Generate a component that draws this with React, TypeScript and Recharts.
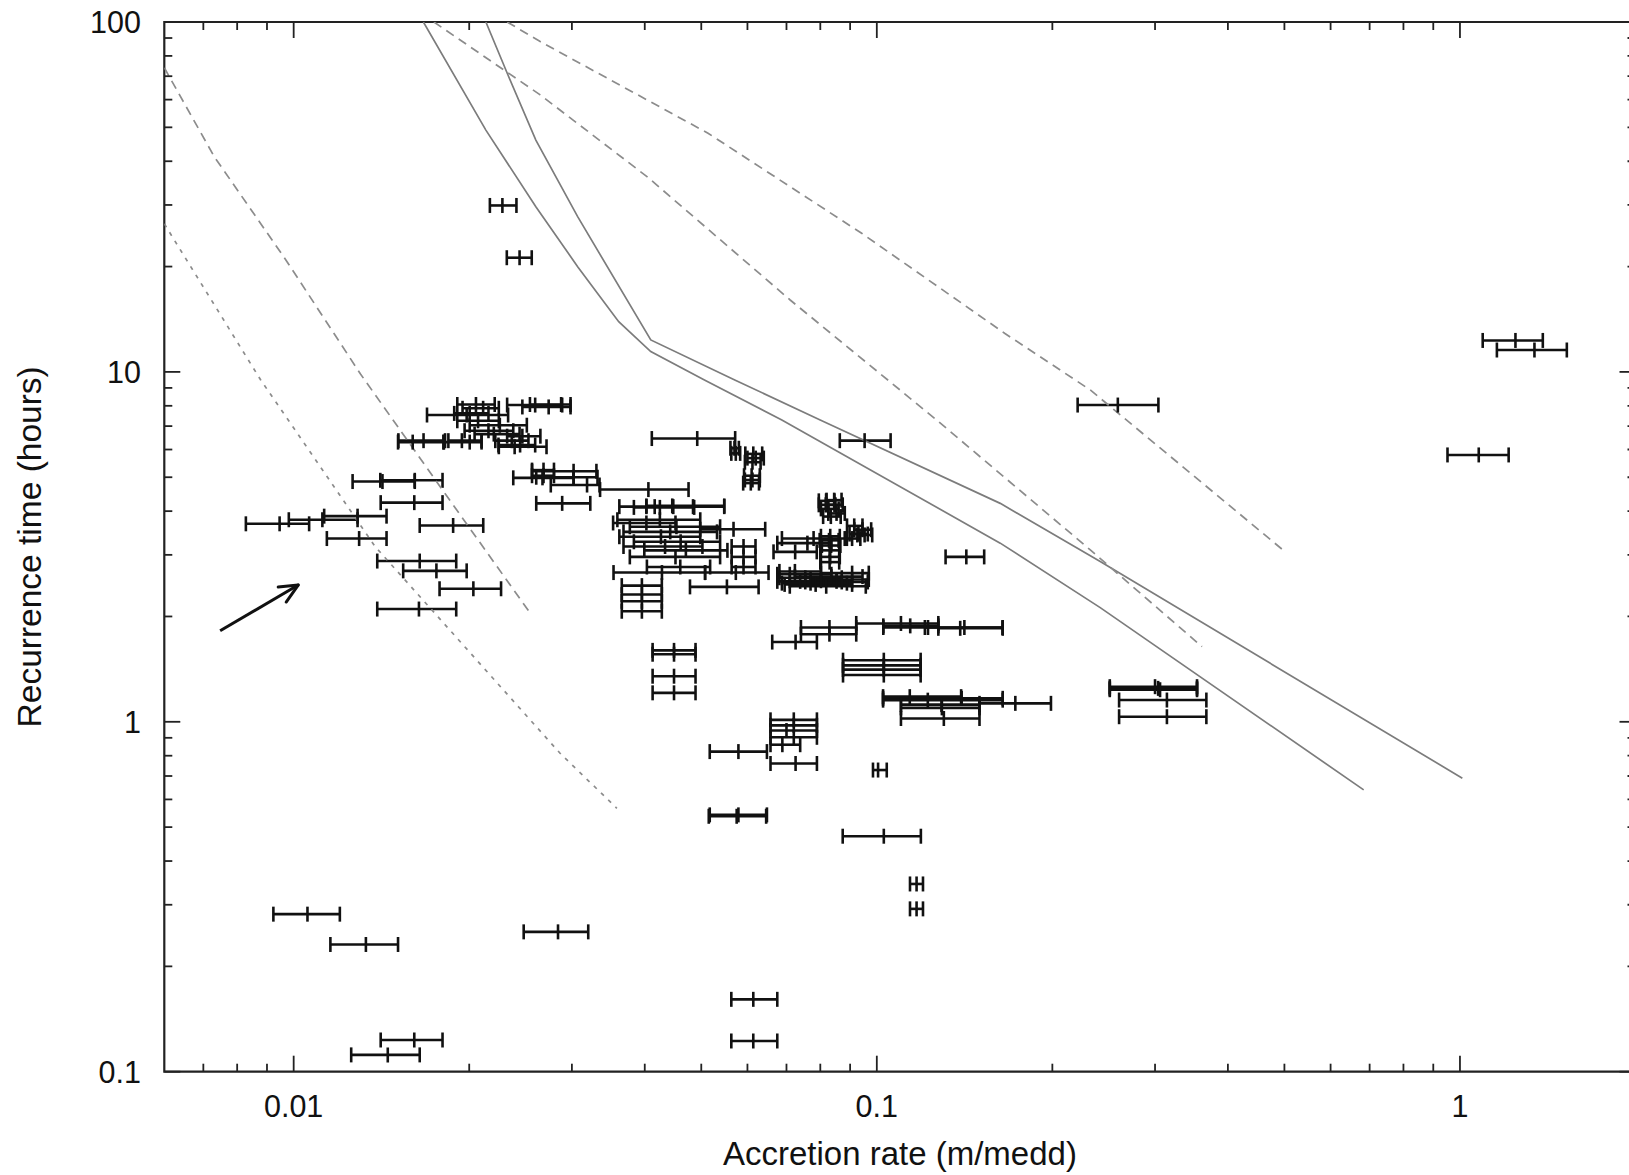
import { ScatterChart, Scatter, XAxis, YAxis, ErrorBar, ReferenceArea } from "recharts";

// [accretion rate, recurrence time, rate low, rate high]
type Bar = [number, number, number, number];

const isolatedBars: Bar[] = [
  [0.0228, 29.9, 0.0217, 0.0241],
  [0.0244, 21.2, 0.0232, 0.0256],
  [1.245, 12.3, 1.094, 1.387],
  [1.342, 11.55, 1.157, 1.525],
  [1.077, 5.79, 0.952, 1.212],
  [0.259, 8.04, 0.221, 0.304],
  [0.0953, 6.36, 0.0864, 0.1056],
  [0.1424, 2.96, 0.1312, 0.1528],
  [0.1005, 0.728, 0.0985, 0.104],
  [0.117, 0.344, 0.114, 0.12],
  [0.117, 0.292, 0.114, 0.12],
  [0.1028, 0.471, 0.0874, 0.119],
  [0.0579, 0.542, 0.0517, 0.0648],
  [0.0575, 0.537, 0.0515, 0.0646],
  [0.0614, 0.161, 0.0563, 0.0675],
  [0.0614, 0.1224, 0.0563, 0.0675],
  [0.0284, 0.251, 0.0248, 0.032],
  [0.01056, 0.282, 0.00923, 0.012],
  [0.0133, 0.231, 0.01156, 0.0151],
  [0.0161, 0.1232, 0.0141, 0.018],
  [0.0145, 0.1117, 0.01255, 0.01645],
];

const leftBars: Bar[] = [
  [0.00946, 3.68, 0.00828, 0.01063],
  [0.0112, 3.78, 0.00981, 0.01287],
  [0.01287, 3.87, 0.01128, 0.01443],
  [0.01295, 3.34, 0.0114, 0.01443],
  [0.0142, 4.86, 0.01262, 0.01613],
  [0.01613, 4.9, 0.01408, 0.018],
  [0.0161, 4.23, 0.0141, 0.018],
  [0.01877, 3.64, 0.01645, 0.02114],
  [0.01645, 2.88, 0.01391, 0.019],
  [0.01757, 2.7, 0.01541, 0.0198],
  [0.02033, 2.4, 0.01779, 0.02268],
  [0.0164, 2.1, 0.01391, 0.019],
];

const upperLeftBars: Bar[] = [
  [0.0167, 6.36, 0.01512, 0.01818],
  [0.016, 6.3, 0.0151, 0.0181],
  [0.01943, 6.36, 0.01842, 0.021],
  [0.02004, 6.3, 0.01806, 0.021],
  [0.02054, 8.07, 0.01908, 0.02212],
  [0.02113, 7.87, 0.01948, 0.02248],
  [0.02004, 7.61, 0.01885, 0.02158],
  [0.02595, 8.04, 0.02323, 0.02887],
  [0.02875, 8.07, 0.02542, 0.02984],
  [0.02737, 7.94, 0.02467, 0.02984],
  [0.0198, 7.53, 0.01693, 0.02332],
  [0.02257, 7.04, 0.02004, 0.02511],
  [0.02158, 6.79, 0.01964, 0.0238],
  [0.02071, 7.25, 0.01908, 0.02248],
  [0.02204, 6.64, 0.02043, 0.0244],
  [0.02366, 6.36, 0.02217, 0.02527],
  [0.02445, 6.18, 0.02245, 0.02595],
  [0.02393, 6.11, 0.02248, 0.02714],
  [0.02467, 6.55, 0.02323, 0.02649],
  [0.02682, 5.24, 0.02563, 0.02795],
  [0.02682, 5.05, 0.02563, 0.02795],
  [0.0302, 5.2, 0.02563, 0.03305],
  [0.02671, 4.98, 0.0238, 0.0302],
  [0.0302, 5.0, 0.02606, 0.03319],
  [0.03185, 4.75, 0.0276, 0.03346],
  [0.04058, 4.61, 0.03353, 0.04755],
  [0.02887, 4.21, 0.02606, 0.03226],
];

const centreBars: Bar[] = [
  [0.04921, 6.45, 0.04113, 0.05716],
  [0.057, 6.05, 0.0561, 0.058],
  [0.0573, 5.85, 0.0563, 0.0583],
  [0.0614, 5.83, 0.0595, 0.0636],
  [0.062, 5.67, 0.06, 0.064],
  [0.0612, 5.52, 0.0594, 0.0632],
  [0.061, 5.05, 0.0592, 0.063],
  [0.0612, 4.91, 0.0594, 0.063],
  [0.0608, 4.81, 0.059, 0.0628],
  [0.04026, 4.12, 0.03618, 0.04477],
  [0.04246, 4.1, 0.03832, 0.04862],
  [0.04459, 4.14, 0.04026, 0.05475],
  [0.0484, 4.12, 0.0416, 0.05475],
  [0.04246, 3.78, 0.0359, 0.0498],
  [0.04533, 3.61, 0.03771, 0.05386],
  [0.04423, 3.49, 0.03678, 0.05321],
  [0.04264, 3.38, 0.03618, 0.0498],
  [0.04609, 3.27, 0.03832, 0.05386],
  [0.04334, 3.17, 0.03678, 0.05023],
  [0.04516, 2.96, 0.03771, 0.05386],
  [0.05679, 3.55, 0.04979, 0.06436],
  [0.04026, 3.7, 0.0353, 0.04516],
  [0.04705, 3.09, 0.03993, 0.05544],
  [0.04602, 2.77, 0.04034, 0.05178],
  [0.04281, 2.67, 0.03536, 0.05076],
  [0.05731, 2.67, 0.05076, 0.06521],
  [0.05533, 2.43, 0.04782, 0.0627],
  [0.03955, 2.45, 0.03653, 0.04279],
  [0.03955, 2.31, 0.03653, 0.04279],
  [0.03955, 2.21, 0.03653, 0.04279],
  [0.03955, 2.07, 0.03653, 0.04279],
  [0.05908, 3.17, 0.05637, 0.06194],
  [0.05908, 2.96, 0.05637, 0.06194],
  [0.05908, 2.77, 0.05637, 0.06194],
  [0.07791, 3.34, 0.06875, 0.08886],
  [0.07244, 3.06, 0.06651, 0.07889],
  [0.07603, 3.24, 0.06751, 0.08357],
  [0.0832, 3.39, 0.0802, 0.0864],
  [0.0828, 3.3, 0.0798, 0.086],
  [0.0835, 3.19, 0.0805, 0.0866],
  [0.083, 3.09, 0.08, 0.0862],
  [0.0832, 2.96, 0.0802, 0.0864],
  [0.083, 2.86, 0.08, 0.0862],
  [0.07092, 2.64, 0.06751, 0.08357],
  [0.07539, 2.58, 0.06807, 0.08707],
  [0.08021, 2.53, 0.07092, 0.09071],
  [0.08357, 2.6, 0.07237, 0.09451],
  [0.08707, 2.51, 0.07539, 0.0965],
  [0.07854, 2.47, 0.06949, 0.09071],
  [0.07389, 2.52, 0.06751, 0.0853],
  [0.09071, 2.66, 0.08021, 0.09688],
  [0.08189, 2.44, 0.07092, 0.09574],
  [0.07237, 2.69, 0.06807, 0.08021],
  [0.0853, 2.55, 0.07698, 0.09688],
  [0.07698, 2.49, 0.06875, 0.08886],
  [0.08185, 4.28, 0.07953, 0.08459],
  [0.08459, 4.17, 0.08185, 0.08741],
  [0.0826, 4.06, 0.0802, 0.08601],
  [0.0853, 3.94, 0.08257, 0.08812],
  [0.0834, 3.86, 0.0809, 0.08671],
  [0.0818, 4.17, 0.07953, 0.08494],
  [0.0845, 4.3, 0.082, 0.087],
  [0.09147, 3.63, 0.0889, 0.0945],
  [0.0945, 3.54, 0.0915, 0.0978],
  [0.093, 3.44, 0.0898, 0.0965],
  [0.0907, 3.34, 0.0881, 0.0937],
  [0.0953, 3.42, 0.0926, 0.0982],
];

const lowerBars: Bar[] = [
  [0.08294, 1.86, 0.07411, 0.0922],
  [0.08294, 1.78, 0.07411, 0.0922],
  [0.07256, 1.69, 0.06617, 0.07893],
  [0.11, 1.91, 0.0922, 0.1275],
  [0.1141, 1.88, 0.1026, 0.1275],
  [0.1224, 1.86, 0.1026, 0.1644],
  [0.139, 1.85, 0.1275, 0.1644],
  [0.1413, 1.86, 0.1209, 0.1644],
  [0.1028, 1.5, 0.08751, 0.1189],
  [0.1028, 1.45, 0.08751, 0.1189],
  [0.1028, 1.41, 0.08751, 0.1189],
  [0.1028, 1.36, 0.08751, 0.1189],
  [0.0449, 1.6, 0.04126, 0.04888],
  [0.0449, 1.56, 0.04126, 0.04888],
  [0.0449, 1.35, 0.04126, 0.04888],
  [0.0449, 1.21, 0.04126, 0.04888],
  [0.1398, 1.167, 0.1025, 0.1644],
  [0.1728, 1.129, 0.15, 0.1989],
  [0.1293, 1.096, 0.11, 0.15],
  [0.1303, 1.022, 0.11, 0.15],
  [0.1139, 1.18, 0.1025, 0.1395],
  [0.1223, 1.153, 0.1025, 0.1644],
  [0.1291, 1.12, 0.11, 0.15],
  [0.3037, 1.246, 0.2509, 0.3541],
  [0.3, 1.26, 0.2509, 0.3541],
  [0.306, 1.235, 0.2509, 0.3541],
  [0.3144, 1.154, 0.2603, 0.3674],
  [0.3144, 1.034, 0.2603, 0.3674],
  [0.07205, 1.013, 0.06572, 0.07894],
  [0.07205, 0.977, 0.06572, 0.07894],
  [0.07, 0.944, 0.06572, 0.07894],
  [0.07205, 0.903, 0.06572, 0.07894],
  [0.06887, 0.86, 0.06572, 0.07389],
  [0.07256, 0.76, 0.06572, 0.07894],
  [0.0579, 0.822, 0.0517, 0.0648],
];

// model curves, [accretion rate, recurrence time]
const solidOuter = [
  [0.01669, 100], [0.02136, 49.1], [0.02602, 29.65], [0.03069, 19.99], [0.03609, 13.92],
  [0.04096, 11.43], [0.05063, 9.48], [0.06873, 7.29], [0.1628, 3.24], [0.2416, 2.12], [0.6838, 0.639],
];
const solidInner = [
  [0.02136, 100], [0.02324, 71.35], [0.02602, 45.98], [0.03069, 27.77], [0.04096, 12.34],
  [0.05707, 9.48], [0.07997, 7.29], [0.1628, 4.21], [0.2416, 2.87], [1.0095, 0.69],
];
const dashedFar = [
  [0.02324, 100], [0.02647, 87.9], [0.05135, 48.1], [0.09419, 24.9], [0.1656, 12.9],
  [0.2323, 8.88], [0.4969, 3.1],
];
const dashedNear = [
  [0.0174, 100], [0.02647, 61.9], [0.0404, 36.1], [0.07103, 16.05], [0.1266, 7.29],
  [0.2323, 3.1], [0.3611, 1.64],
];
const dashedLeft = [
  [0.006, 74], [0.00731, 41.2], [0.00969, 20.93], [0.01302, 9.86], [0.01791, 4.65], [0.02547, 2.04],
];
const dottedLeft = [
  [0.006, 26.5], [0.00878, 9.48], [0.01379, 3.17], [0.02863, 0.813], [0.03583, 0.566],
];

const arrowTail = { x: 0.00748, y: 1.82 };
const arrowTip = { x: 0.01018, y: 2.46, tip: true };

const xTicks = [
  0.007, 0.008, 0.009, 0.01, 0.02, 0.03, 0.04, 0.05, 0.06, 0.07, 0.08, 0.09,
  0.1, 0.2, 0.3, 0.4, 0.5, 0.6, 0.7, 0.8, 0.9, 1,
];
const yTicks = [
  0.1, 0.2, 0.3, 0.4, 0.5, 0.6, 0.7, 0.8, 0.9, 1, 2, 3, 4, 5, 6, 7, 8, 9,
  10, 20, 30, 40, 50, 60, 70, 80, 90, 100,
];

// layout in page pixels (the chart sits at the page's top-left corner)
const W = 1648;
const H = 1175;
const LEFT = 164.3;
const TOP = 22;
const BOTTOM = 1071.7;
const RIGHT = 1635.5;
const FONT = '"Liberation Sans", Arial, Helvetica, sans-serif';
const INK = "#111";
const AXIS = "#222";

const toRows = (list: Bar[]) => list.map(([x, y, lo, hi]) => ({ x, y, ex: [x - lo, hi - x] }));
const toLine = (list: number[][]) => list.map(([x, y]) => ({ x, y }));
const isMajor = (v: number) => Math.abs(Math.log10(v) - Math.round(Math.log10(v))) < 1e-6;

function XTick(props: any) {
  const { x, payload } = props;
  const v = payload.value;
  const len = isMajor(v) ? 16 : 8;
  return (
    <g>
      <line x1={x} x2={x} y1={BOTTOM} y2={BOTTOM - len} stroke={AXIS} strokeWidth={1.8} />
      <line x1={x} x2={x} y1={TOP} y2={TOP + len} stroke={AXIS} strokeWidth={1.8} />
      {isMajor(v) && (
        <text x={x} y={1117} textAnchor="middle" fontSize={30.5} fontFamily={FONT} fill={INK}>
          {String(v)}
        </text>
      )}
    </g>
  );
}

function YTick(props: any) {
  const { y, payload } = props;
  const v = payload.value;
  const len = isMajor(v) ? 16 : 8;
  return (
    <g>
      <line x1={LEFT} x2={LEFT + len} y1={y} y2={y} stroke={AXIS} strokeWidth={1.8} />
      <line x1={RIGHT} x2={RIGHT - len} y1={y} y2={y} stroke={AXIS} strokeWidth={1.8} />
      {isMajor(v) && (
        <text x={141} y={y} dy="0.36em" textAnchor="end" fontSize={30.5} fontFamily={FONT} fill={INK}>
          {String(v)}
        </text>
      )}
    </g>
  );
}

const centreTick = (p: any) => (
  <line x1={p.cx} x2={p.cx} y1={p.cy - 7.5} y2={p.cy + 7.5} stroke={INK} strokeWidth={2.6} />
);

const arrowHead = (p: any) =>
  p.payload && p.payload.tip ? (
    <g stroke={INK} strokeWidth={3} strokeLinecap="round">
      <line x1={p.cx} y1={p.cy} x2={p.cx - 20} y2={p.cy + 2} />
      <line x1={p.cx} y1={p.cy} x2={p.cx - 12} y2={p.cy + 17} />
    </g>
  ) : (
    <g />
  );

const noDot = () => <g />;

const curves = [
  { data: solidOuter, stroke: "#7c7c7c", dash: undefined },
  { data: solidInner, stroke: "#7c7c7c", dash: undefined },
  { data: dashedFar, stroke: "#8c8c8c", dash: "9 6" },
  { data: dashedNear, stroke: "#8c8c8c", dash: "9 6" },
  { data: dashedLeft, stroke: "#8c8c8c", dash: "9 6" },
  { data: dottedLeft, stroke: "#8c8c8c", dash: "4 6" },
];

const barGroups = [isolatedBars, leftBars, upperLeftBars, centreBars, lowerBars];

export default function App() {
  return (
    <div style={{ position: "absolute", left: 0, top: 0, width: 1629, height: 1175, overflow: "hidden" }}>
      <ScatterChart width={W} height={H} margin={{ top: TOP, right: W - RIGHT, bottom: 0, left: 0 }}>
        <XAxis
          type="number"
          dataKey="x"
          scale="log"
          domain={[0.006, 2]}
          allowDataOverflow
          ticks={xTicks}
          interval={0}
          tick={<XTick />}
          tickLine={false}
          axisLine={false}
          height={H - BOTTOM}
          label={() => (
            <text x={(LEFT + RIGHT) / 2} y={1165} textAnchor="middle" fontSize={33} fontFamily={FONT} fill={INK}>
              Accretion rate (m/medd)
            </text>
          )}
        />
        <YAxis
          type="number"
          dataKey="y"
          scale="log"
          domain={[0.1, 100]}
          allowDataOverflow
          ticks={yTicks}
          interval={0}
          tick={<YTick />}
          tickLine={false}
          axisLine={false}
          width={LEFT}
          label={() => (
            <text
              x={41}
              y={(TOP + BOTTOM) / 2}
              transform={`rotate(-90 41 ${(TOP + BOTTOM) / 2})`}
              textAnchor="middle"
              fontSize={33.5}
              fontFamily={FONT}
              fill={INK}
            >
              Recurrence time (hours)
            </text>
          )}
        />
        <ReferenceArea x1={0.006} x2={2} y1={0.1} y2={100} fill="none" stroke={AXIS} strokeWidth={2.2} />
        {curves.map((c, i) => (
          <Scatter
            key={`curve-${i}`}
            data={toLine(c.data)}
            line={{ stroke: c.stroke, strokeWidth: 1.7, strokeDasharray: c.dash }}
            lineType="joint"
            shape={noDot}
            isAnimationActive={false}
          />
        ))}
        {barGroups.map((g, i) => (
          <Scatter key={`bars-${i}`} data={toRows(g)} shape={centreTick} isAnimationActive={false}>
            <ErrorBar dataKey="ex" direction="x" width={7.5} stroke={INK} strokeWidth={2.6} isAnimationActive={false} />
          </Scatter>
        ))}
        <Scatter
          data={[arrowTail, arrowTip]}
          line={{ stroke: INK, strokeWidth: 3 }}
          lineType="joint"
          shape={arrowHead}
          isAnimationActive={false}
        />
      </ScatterChart>
    </div>
  );
}
